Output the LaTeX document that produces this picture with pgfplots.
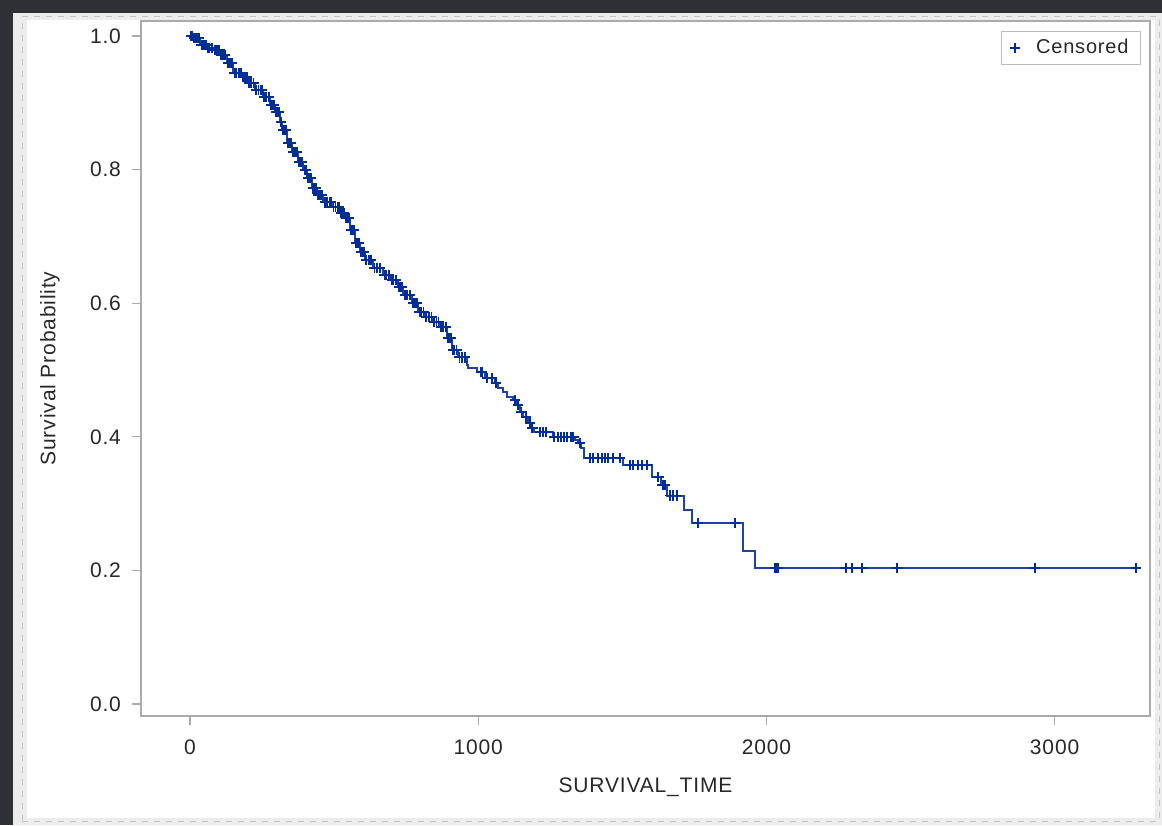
\documentclass[border=0pt]{standalone}
\usepackage{pgfplots}
\pgfplotsset{compat=1.18}
\usepackage{fontspec}
\setmainfont{Liberation Sans}[LetterSpace=4]

\definecolor{kmline}{RGB}{32,66,165}
\definecolor{kmmark}{RGB}{0,45,150}
\definecolor{axgray}{RGB}{170,170,170}
\definecolor{txt}{RGB}{40,40,40}
\definecolor{shell}{RGB}{45,49,53}
\definecolor{rim}{RGB}{236,236,236}

\begin{document}
\begin{tikzpicture}[x=1pt,y=1pt]
\useasboundingbox (0,0) rectangle (581,412.5);
% screenshot surround
\fill[shell] (0,0) rectangle (581,412.5);
\fill[rim] (6.5,0) rectangle (581,406);
\fill[white] (13.5,3.5) rectangle (577.5,402.5);
\draw[axgray!70, dashed, line width=0.5pt] (11,2) rectangle (579.5,404);

\begin{axis}[
  at={(70.5pt,54.5pt)}, anchor=south west,
  scale only axis, width=504.5pt, height=347.5pt,
  xmin=-170, xmax=3331, ymin=-0.018, ymax=1.0225,
  xtick={0,1000,2000,3000},
  ytick={0,0.2,0.4,0.6,0.8,1.0},
  xtick pos=lower, ytick pos=left, tick align=outside,
  major tick length=4.5pt,
  axis line style={axgray, line width=0.8pt},
  tick style={axgray, line width=0.6pt},
  ticklabel style={font=\fontsize{10.5}{12}\selectfont, text=txt},
  yticklabel style={xshift=-2pt, /pgf/number format/.cd, fixed, zerofill, precision=1},
  xticklabel style={yshift=-4pt, /pgf/number format/.cd, 1000 sep={}},
  /pgf/number format/assume math mode=true,
  xlabel={SURVIVAL\_TIME},
  ylabel={Survival Probability},
  label style={font=\fontsize{10.5}{12}\selectfont, text=txt},
  xlabel style={at={(axis description cs:0.5,-0.1022)}, anchor=center},
  ylabel style={at={(axis description cs:-0.0902,0.5)}, anchor=center},
  legend style={at={(axis description cs:1,1)}, anchor=north east,
    xshift=-4.5pt, yshift=-5pt, draw=axgray!80, line width=0.5pt,
    font=\fontsize{10}{12}\selectfont, text=txt, inner xsep=4pt, inner ysep=2pt},
  legend cell align=left,
  clip=false,
]

% Kaplan-Meier estimate
\addplot[const plot, kmline, line width=1pt, forget plot] coordinates {
  (0,1.0) (10,0.997) (35,0.987) (59,0.982) (80,0.979) (104,0.972)
  (128,0.960) (149,0.945) (180,0.939) (201,0.930) (226,0.919) (253,0.909)
  (278,0.897) (295,0.886) (312,0.871) (319,0.859) (337,0.840) (354,0.826)
  (375,0.811) (392,0.799) (406,0.787) (423,0.772) (441,0.762) (462,0.751)
  (493,0.744) (521,0.735) (538,0.728) (555,0.710) (573,0.690) (590,0.677)
  (607,0.665) (635,0.653) (670,0.642) (694,0.635) (722,0.624) (739,0.612)
  (770,0.600) (791,0.587) (816,0.579) (843,0.572) (868,0.564) (892,0.548)
  (909,0.530) (930,0.519) (961,0.507) (965,0.503) (996,0.497) (1024,0.488)
  (1058,0.481) (1069,0.473) (1086,0.467) (1100,0.460) (1121,0.455)
  (1135,0.448) (1145,0.437) (1156,0.430) (1173,0.421) (1183,0.413)
  (1194,0.407) (1260,0.400) (1336,0.395) (1346,0.391) (1357,0.383)
  (1367,0.368) (1503,0.358) (1603,0.340) (1635,0.328) (1655,0.312)
  (1714,0.290) (1742,0.271) (1919,0.229) (1960,0.204) (3300,0.204)
};

% censored observations
\addplot[only marks, mark=+, mark size=2.6pt, kmmark, line width=0.9pt] coordinates {
  (3,1.0) (6,1.0) (8,1.0) (14,0.997) (20,0.997) (27,0.997) (32,0.997)
  (40,0.987) (45,0.987) (52,0.987) (57,0.987) (62,0.982) (68,0.982) (75,0.982)
  (85,0.979) (90,0.979) (97,0.979) (102,0.979) (108,0.972) (115,0.972) (122,0.972)
  (132,0.960) (138,0.960) (145,0.960) (155,0.945) (160,0.945) (170,0.945) (176,0.945)
  (185,0.939) (190,0.939) (198,0.939) (205,0.930) (212,0.930) (220,0.930)
  (230,0.919) (238,0.919) (245,0.919) (250,0.919) (258,0.909) (265,0.909) (274,0.909)
  (282,0.897) (286,0.897) (292,0.897) (299,0.886) (303,0.886) (308,0.886)
  (315,0.871) (323,0.859) (328,0.859) (334,0.859) (341,0.840) (345,0.840) (351,0.840)
  (358,0.826) (364,0.826) (371,0.826) (379,0.811) (383,0.811) (389,0.811)
  (398,0.799) (403,0.799) (410,0.787) (414,0.787) (420,0.787)
  (427,0.772) (432,0.772) (438,0.772) (445,0.762) (450,0.762) (458,0.762)
  (468,0.751) (475,0.751) (485,0.751) (490,0.751) (498,0.744) (505,0.744) (512,0.744) (518,0.744)
  (525,0.735) (530,0.735) (535,0.735) (542,0.728) (546,0.728) (552,0.728)
  (558,0.710) (563,0.710) (570,0.710) (576,0.690) (580,0.690) (586,0.690)
  (593,0.677) (598,0.677) (604,0.677) (612,0.665) (620,0.665) (628,0.665)
  (640,0.653) (650,0.653) (660,0.653) (675,0.642) (680,0.642) (690,0.642)
  (700,0.635) (705,0.635) (715,0.635) (726,0.624) (730,0.624) (736,0.624)
  (745,0.612) (752,0.612) (762,0.612) (775,0.600) (780,0.600) (788,0.600)
  (796,0.587) (802,0.587) (810,0.587) (820,0.579) (828,0.579) (838,0.579)
  (848,0.572) (855,0.572) (862,0.572) (872,0.564) (878,0.564) (888,0.564)
  (896,0.548) (900,0.548) (905,0.548) (912,0.530) (918,0.530) (925,0.530)
  (935,0.519) (945,0.519) (955,0.519)
  (1010,0.497) (1013,0.497) (1031,0.488) (1048,0.488)
  (1062,0.481) (1128,0.455) (1138,0.448) (1150,0.437) (1165,0.430)
  (1180,0.421) (1188,0.413) (1214,0.407) (1225,0.407) (1235,0.407)
  (1263,0.400) (1277,0.400) (1287,0.400) (1298,0.400) (1308,0.400)
  (1322,0.400) (1330,0.400) (1353,0.391) (1388,0.368) (1398,0.368)
  (1416,0.368) (1430,0.368) (1440,0.368) (1451,0.368) (1468,0.368)
  (1492,0.368) (1527,0.358) (1537,0.358) (1555,0.358) (1568,0.358)
  (1586,0.358) (1625,0.340) (1640,0.328) (1648,0.328) (1665,0.312)
  (1675,0.312) (1690,0.312) (1762,0.271) (1891,0.271) (2030,0.204)
  (2035,0.204) (2040,0.204) (2276,0.204) (2297,0.204) (2332,0.204)
  (2453,0.204) (2932,0.204) (3282,0.204)
};
\addlegendentry{\hspace{6pt}Censored}

\end{axis}
\end{tikzpicture}
\end{document}
